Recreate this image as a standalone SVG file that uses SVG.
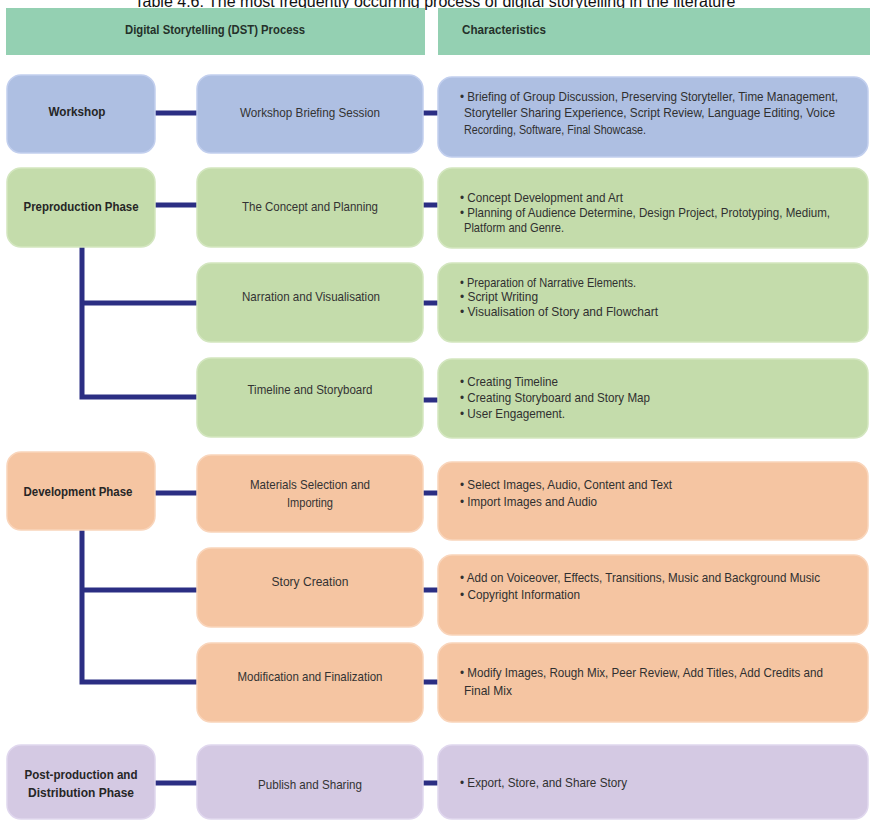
<svg xmlns="http://www.w3.org/2000/svg" width="870" height="821" viewBox="0 0 870 821">
<style>
  text { font-family: "Liberation Sans", Arial, sans-serif; }
  .title { font-size: 16px; fill: #111; }
  .hdr { fill: #94d0b2; }
  .hdrt { font-size: 12.5px; font-weight: bold; fill: #25302a; }
  .blue { fill: #aebfe2; stroke: #c2cfee; stroke-width: 1.5; }
  .green { fill: #c4dcab; stroke: #d3e6bf; stroke-width: 1.5; }
  .orange { fill: #f5c5a2; stroke: #f9d5bb; stroke-width: 1.5; }
  .purple { fill: #d4c9e3; stroke: #e0d7ee; stroke-width: 1.5; }
  .lbl { font-size: 13px; font-weight: bold; fill: #262626; text-anchor: middle; }
  .mid { font-size: 13px; fill: #333333; text-anchor: middle; }
  .ch { font-size: 13px; fill: #303030; }
  .conn { stroke: #2b2e83; stroke-width: 5; fill: none; }
</style>
<rect x="0" y="0" width="870" height="821" fill="#ffffff"/>
<text class="title" x="435" y="7" text-anchor="middle">Table 4.6: The most frequently occurring process of digital storytelling in the literature</text>

<g id="header-process">
  <rect class="hdr" x="6" y="8" width="419" height="47"/>
  <text class="hdrt" x="215" y="34" text-anchor="middle" textLength="180" lengthAdjust="spacingAndGlyphs">Digital Storytelling (DST) Process</text>
</g>
<g id="header-characteristics">
  <rect class="hdr" x="438" y="8" width="432" height="47"/>
  <text class="hdrt" x="462" y="34" textLength="84" lengthAdjust="spacingAndGlyphs">Characteristics</text>
</g>

<g id="connectors">
  <path class="conn" d="M155 113 H197 M423 113 H438"/>
  <path class="conn" d="M155 205 H197 M423 205 H438"/>
  <path class="conn" d="M82 247 V397 H197 M82 303 H197 M423 303 H438 M423 400 H438"/>
  <path class="conn" d="M155 493 H197 M423 493 H438"/>
  <path class="conn" d="M82 530 V682 H197 M82 590 H197 M423 590 H438 M423 682 H438"/>
  <path class="conn" d="M155 783 H197 M423 783 H438"/>
</g>

<g id="workshop">
  <rect class="blue" x="7" y="75" width="148" height="78" rx="14"/>
  <text class="lbl" x="77" y="116" textLength="57" lengthAdjust="spacingAndGlyphs">Workshop</text>
</g>
<g id="workshop-briefing">
  <rect class="blue" x="197" y="75" width="226" height="78" rx="14"/>
  <text class="mid" x="310" y="117" textLength="140" lengthAdjust="spacingAndGlyphs">Workshop Briefing Session</text>
</g>
<g id="char-workshop">
  <rect class="blue" x="438" y="77" width="430" height="80" rx="14"/>
  <text class="ch" x="460" y="101" textLength="378" lengthAdjust="spacingAndGlyphs">• Briefing of Group Discussion, Preserving Storyteller, Time Management,</text>
  <text class="ch" x="464" y="117" textLength="371" lengthAdjust="spacingAndGlyphs">Storyteller Sharing Experience, Script Review, Language Editing, Voice</text>
  <text class="ch" x="464" y="134" textLength="182" lengthAdjust="spacingAndGlyphs">Recording, Software, Final Showcase.</text>
</g>

<g id="preproduction">
  <rect class="green" x="7" y="168" width="148" height="79" rx="14"/>
  <text class="lbl" x="81" y="211" textLength="115" lengthAdjust="spacingAndGlyphs">Preproduction Phase</text>
</g>
<g id="concept-planning">
  <rect class="green" x="197" y="168" width="226" height="79" rx="14"/>
  <text class="mid" x="310" y="211" textLength="136" lengthAdjust="spacingAndGlyphs">The Concept and Planning</text>
</g>
<g id="char-concept">
  <rect class="green" x="438" y="168" width="430" height="80" rx="14"/>
  <text class="ch" x="460" y="202" textLength="163" lengthAdjust="spacingAndGlyphs">• Concept Development and Art</text>
  <text class="ch" x="460" y="217" textLength="370" lengthAdjust="spacingAndGlyphs">• Planning of Audience Determine, Design Project, Prototyping, Medium,</text>
  <text class="ch" x="464" y="232" textLength="100" lengthAdjust="spacingAndGlyphs">Platform and Genre.</text>
</g>
<g id="narration">
  <rect class="green" x="197" y="263" width="226" height="79" rx="14"/>
  <text class="mid" x="311" y="301" textLength="138" lengthAdjust="spacingAndGlyphs">Narration and Visualisation</text>
</g>
<g id="char-narration">
  <rect class="green" x="438" y="263" width="430" height="79" rx="14"/>
  <text class="ch" x="460" y="287" textLength="176" lengthAdjust="spacingAndGlyphs">• Preparation of Narrative Elements.</text>
  <text class="ch" x="460" y="301" textLength="78" lengthAdjust="spacingAndGlyphs">• Script Writing</text>
  <text class="ch" x="460" y="316" textLength="198" lengthAdjust="spacingAndGlyphs">• Visualisation of Story and Flowchart</text>
</g>
<g id="timeline">
  <rect class="green" x="197" y="358" width="226" height="79" rx="14"/>
  <text class="mid" x="310" y="394" textLength="125" lengthAdjust="spacingAndGlyphs">Timeline and Storyboard</text>
</g>
<g id="char-timeline">
  <rect class="green" x="438" y="359" width="430" height="79" rx="14"/>
  <text class="ch" x="460" y="386" textLength="98" lengthAdjust="spacingAndGlyphs">• Creating Timeline</text>
  <text class="ch" x="460" y="402" textLength="190" lengthAdjust="spacingAndGlyphs">• Creating Storyboard and Story Map</text>
  <text class="ch" x="460" y="418" textLength="105" lengthAdjust="spacingAndGlyphs">• User Engagement.</text>
</g>

<g id="development">
  <rect class="orange" x="7" y="452" width="148" height="78" rx="14"/>
  <text class="lbl" x="78" y="496" textLength="109" lengthAdjust="spacingAndGlyphs">Development Phase</text>
</g>
<g id="materials">
  <rect class="orange" x="197" y="455" width="226" height="77" rx="14"/>
  <text class="mid" x="310" y="489" textLength="120" lengthAdjust="spacingAndGlyphs">Materials Selection and</text>
  <text class="mid" x="310" y="507" textLength="46" lengthAdjust="spacingAndGlyphs">Importing</text>
</g>
<g id="char-materials">
  <rect class="orange" x="438" y="462" width="430" height="78" rx="14"/>
  <text class="ch" x="460" y="489" textLength="212" lengthAdjust="spacingAndGlyphs">• Select Images, Audio, Content and Text</text>
  <text class="ch" x="460" y="506" textLength="137" lengthAdjust="spacingAndGlyphs">• Import Images and Audio</text>
</g>
<g id="story-creation">
  <rect class="orange" x="197" y="548" width="226" height="79" rx="14"/>
  <text class="mid" x="310" y="586" textLength="77" lengthAdjust="spacingAndGlyphs">Story Creation</text>
</g>
<g id="char-story">
  <rect class="orange" x="438" y="555" width="430" height="80" rx="14"/>
  <text class="ch" x="460" y="582" textLength="360" lengthAdjust="spacingAndGlyphs">• Add on Voiceover, Effects, Transitions, Music and Background Music</text>
  <text class="ch" x="460" y="599" textLength="120" lengthAdjust="spacingAndGlyphs">• Copyright Information</text>
</g>
<g id="modification">
  <rect class="orange" x="197" y="643" width="226" height="79" rx="14"/>
  <text class="mid" x="310" y="681" textLength="145" lengthAdjust="spacingAndGlyphs">Modification and Finalization</text>
</g>
<g id="char-modification">
  <rect class="orange" x="438" y="643" width="430" height="79" rx="14"/>
  <text class="ch" x="460" y="677" textLength="363" lengthAdjust="spacingAndGlyphs">• Modify Images, Rough Mix, Peer Review, Add Titles, Add Credits and</text>
  <text class="ch" x="464" y="695" textLength="48" lengthAdjust="spacingAndGlyphs">Final Mix</text>
</g>

<g id="post-production">
  <rect class="purple" x="7" y="745" width="148" height="74" rx="14"/>
  <text class="lbl" x="81" y="779" textLength="113" lengthAdjust="spacingAndGlyphs">Post-production and</text>
  <text class="lbl" x="81" y="797" textLength="106" lengthAdjust="spacingAndGlyphs">Distribution Phase</text>
</g>
<g id="publish">
  <rect class="purple" x="197" y="745" width="226" height="74" rx="14"/>
  <text class="mid" x="310" y="789" textLength="104" lengthAdjust="spacingAndGlyphs">Publish and Sharing</text>
</g>
<g id="char-publish">
  <rect class="purple" x="438" y="745" width="430" height="74" rx="14"/>
  <text class="ch" x="460" y="787" textLength="167" lengthAdjust="spacingAndGlyphs">• Export, Store, and Share Story</text>
</g>
</svg>
